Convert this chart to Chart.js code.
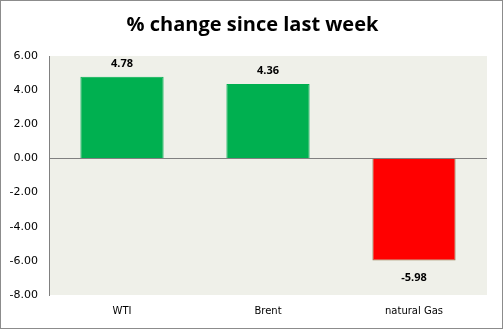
<!DOCTYPE html>
<html>
<head>
<meta charset="utf-8">
<script src="https://cdn.jsdelivr.net/npm/chart.js@4"></script>
<style>
  body { margin: 0; background: #fff; }
  #wrap { width: 503px; height: 329px; }
</style>
</head>
<body>
<div id="wrap"><canvas id="chart"></canvas></div>
<script>
let categories = ["WTI", "Brent", "natural Gas"];
let changes = [4.78, 4.36, -5.98];
let barColors = ["#00B050", "#00B050", "#FF0000"];
let borderColors = ["#00B050", "#00B050", "#8E7A4E"];
let chartTitle = "% change since last week";

// plot area background, outer frame and the title (centred on the whole canvas)
const framePlugin = {
    id: "frame",
    beforeDraw(chart) {
        const ctx = chart.ctx;
        const a = chart.chartArea;
        ctx.save();
        ctx.fillStyle = "#fff";
        ctx.fillRect(0, 0, chart.width, chart.height);
        ctx.fillStyle = "#EFF0E9";
        ctx.fillRect(a.left, a.top, a.right - a.left, a.bottom - a.top);
        ctx.strokeStyle = "#8c8c8c";
        ctx.lineWidth = 1;
        ctx.strokeRect(0.5, 0.5, chart.width - 1, chart.height - 1);
        ctx.font = "bold 20px 'Open Sans', sans-serif";
        ctx.fillStyle = "#000";
        ctx.textAlign = "center";
        ctx.textBaseline = "middle";
        ctx.fillText(chartTitle, chart.width / 2 + 1, 25);
        ctx.restore();
    }
};

// value labels above / below each bar
const labelPlugin = {
    id: "valueLabels",
    afterDatasetsDraw(chart) {
        const ctx = chart.ctx;
        const meta = chart.getDatasetMeta(0);
        ctx.save();
        ctx.font = "bold 11px 'Open Sans', sans-serif";
        ctx.fillStyle = "#000";
        ctx.textAlign = "center";
        ctx.textBaseline = "middle";
        meta.data.forEach((bar, i) => {
            const v = changes[i];
            const y = v >= 0 ? bar.y - 13 : bar.y + 17;
            ctx.fillText(v.toFixed(2), bar.x, y);
        });
        ctx.restore();
    }
};

new Chart(document.getElementById("chart"), {
    type: "bar",
    data: {
        labels: categories,
        datasets: [{
            data: changes,
            backgroundColor: barColors,
            borderColor: borderColors,
            borderWidth: 1,
            barPercentage: 0.57,
            categoryPercentage: 1
        }]
    },
    options: {
        responsive: true,
        maintainAspectRatio: false,
        animation: false,
        layout: { padding: { left: 0, right: 16, top: 56, bottom: 0 } },
        plugins: {
            legend: { display: false },
            tooltip: { enabled: false },
            title: { display: false }
        },
        scales: {
            x: {
                grid: { display: false, drawTicks: false },
                border: { display: false },
                ticks: { color: "#000", padding: 10, font: { family: "'DejaVu Sans', sans-serif", size: 10 } },
                afterFit: s => { s.height = 34; }
            },
            y: {
                min: -8,
                max: 6,
                ticks: {
                    stepSize: 2,
                    color: "#000",
                    padding: 11,
                    font: { family: "'DejaVu Sans', sans-serif", size: 11 },
                    callback: v => v.toFixed(2)
                },
                grid: {
                    drawTicks: false,
                    color: c => c.tick && c.tick.value === 0 ? "#808080" : "rgba(0,0,0,0)"
                },
                border: { display: true, color: "#808080" },
                afterFit: s => { s.width = 49; }
            }
        }
    },
    plugins: [framePlugin, labelPlugin]
});
</script>
</body>
</html>
